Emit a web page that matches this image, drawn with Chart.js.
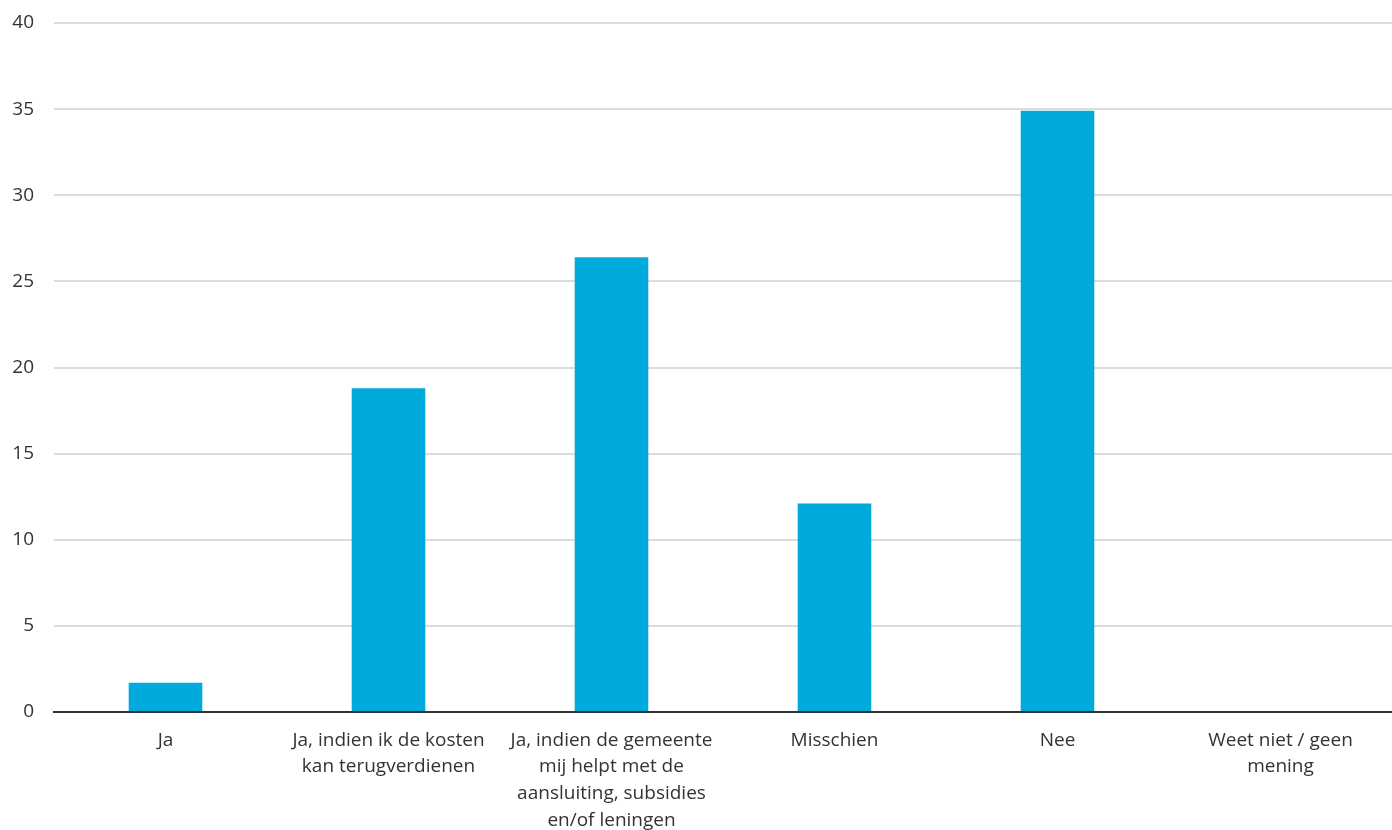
<!DOCTYPE html>
<html>
<head>
<meta charset="utf-8">
<script src="https://cdn.jsdelivr.net/npm/chart.js@4/dist/chart.umd.min.js"></script>
<style>
  html, body { margin: 0; padding: 0; background: #fff; }
  #wrap { width: 1392px; height: 830px; }
</style>
</head>
<body>
<div id="wrap"><canvas id="chart"></canvas></div>
<script>
const categories = [
  "Ja",
  ["Ja, indien ik de kosten", "kan terugverdienen"],
  ["Ja, indien de gemeente", "mij helpt met de", "aansluiting, subsidies", "en/of leningen"],
  "Misschien",
  "Nee",
  ["Weet niet / geen", "mening"]
];
const values = [1.7, 18.8, 26.4, 12.1, 34.9, 0];
const yTicks = [0, 5, 10, 15, 20, 25, 30, 35, 40];

const ctx = document.getElementById("chart").getContext("2d");

new Chart(ctx, {
  type: "bar",
  data: {
    labels: categories,
    datasets: [
      {
        label: "Aandeel",
        data: values,
        backgroundColor: "#00aadd",
        borderWidth: 0,
        categoryPercentage: 1,
        barPercentage: 0.33,
      },
    ],
  },
  options: {
    responsive: true,
    maintainAspectRatio: false,
    animation: false,
    layout: { padding: { top: 23, right: 0, left: 0, bottom: 0 } },
    plugins: {
      legend: { display: false },
      tooltip: { enabled: false },
    },
    scales: {
      x: {
        grid: { display: false, drawTicks: false },
        border: { color: "#333", width: 2 },
        afterFit: (axis) => {
          axis.height = 118;
        },
        ticks: {
          color: "#333",
          font: { family: "Open Sans", size: 19, lineHeight: 1.4 },
          padding: 15,
          maxRotation: 0,
          autoSkip: false,
        },
      },
      y: {
        min: 0,
        max: 40,
        afterBuildTicks: (axis) => {
          axis.ticks = yTicks.map((v) => ({ value: v }));
        },
        afterFit: (axis) => {
          axis.width = 54;
          axis.paddingTop = 0;
          axis.paddingBottom = 0;
        },
        grid: {
          color: (c) => (c.tick.value === 0 ? "#333" : "#dcdcdc"),
          lineWidth: 2,
          drawTicks: false,
        },
        border: { display: false },
        ticks: {
          color: "#333",
          font: { family: "Open Sans", size: 19 },
          padding: 20,
        },
      },
    },
  },
});
</script>
</body>
</html>
